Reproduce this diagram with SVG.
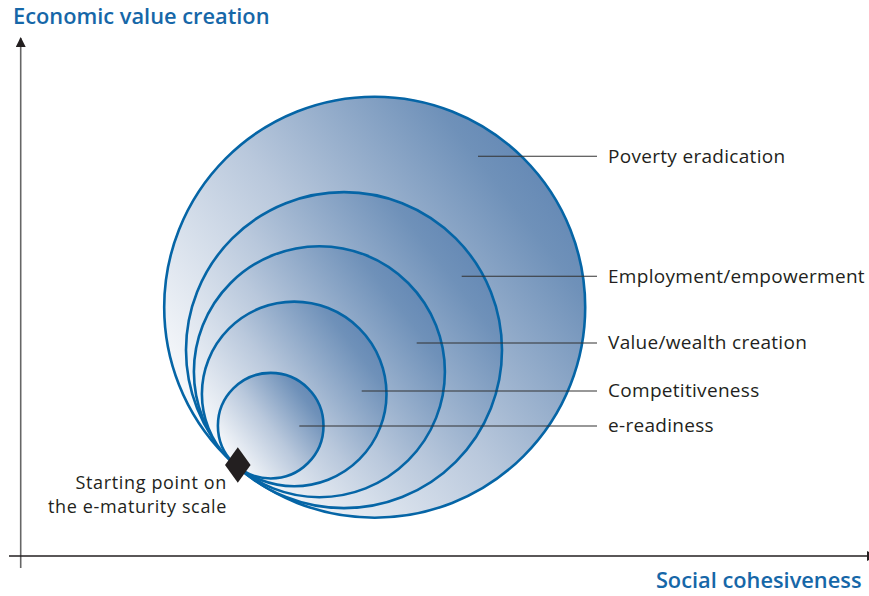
<svg xmlns="http://www.w3.org/2000/svg" width="869" height="596" viewBox="0 0 869 596">
  <style>
    .ring { stroke: #0565a6; stroke-width: 2.6; fill: url(#shade); }
    .leader { stroke: #333333; stroke-width: 1.1; fill: none; }
    .label { font-family: "Open Sans", "Noto Sans", sans-serif; font-size: 19px; letter-spacing: 0.3px; fill: #231f20; }
    .note { font-family: "Open Sans", "Noto Sans", sans-serif; font-size: 18px; letter-spacing: 0.65px; fill: #231f20; }
    .axis-title { font-family: "Open Sans", "Noto Sans", sans-serif; font-size: 21.8px; font-weight: 600; fill: #1667a8; }
  </style>
  <defs>
    <linearGradient id="shade" x1="0.08" y1="0.85" x2="0.92" y2="0.2">
      <stop offset="0" stop-color="#ffffff"/>
      <stop offset="0.5" stop-color="#b9c8dc"/>
      <stop offset="0.9" stop-color="#6f91b9"/>
      <stop offset="1" stop-color="#6589b5"/>
    </linearGradient>
    <marker id="arrow" viewBox="0 0 10 10" refX="9" refY="5" markerWidth="10" markerHeight="10" markerUnits="userSpaceOnUse" orient="auto">
      <path d="M0,0 L10,5 L0,10 Z" fill="#231f20"/>
    </marker>
  </defs>

  <!-- axes -->
  <g id="axes">
    <line x1="20.7" y1="568" x2="20.7" y2="38" stroke="#666666" stroke-width="1.6" marker-end="url(#arrow)"/>
    <line x1="9" y1="556" x2="876" y2="556" stroke="#231f20" stroke-width="1.6" marker-end="url(#arrow)"/>
    <text class="axis-title" x="13" y="24">Economic value creation</text>
    <text class="axis-title" x="861.5" y="588" text-anchor="end">Social cohesiveness</text>
  </g>

  <!-- nested maturity stages, all touching at the starting point -->
  <g id="stage-poverty"><circle class="ring" cx="374.7" cy="307.2" r="210.5"/></g>
  <g id="stage-employment"><circle class="ring" cx="344" cy="350.1" r="158"/></g>
  <g id="stage-value"><circle class="ring" cx="319.4" cy="371.7" r="125.5"/></g>
  <g id="stage-competitiveness"><circle class="ring" cx="294.2" cy="393.9" r="92.3"/></g>
  <g id="stage-ereadiness"><circle class="ring" cx="270.7" cy="425.7" r="52.8"/></g>

  <!-- starting point marker -->
  <g id="start-point">
    <path d="M237.8,447.3 L250.6,465 L237.8,482.7 L225,465 Z" fill="#231f20"/>
    <text class="note" x="227" y="488.8" text-anchor="end">Starting point on</text>
    <text class="note" x="227" y="513.4" text-anchor="end">the e-maturity scale</text>
  </g>

  <!-- leader lines -->
  <g id="connectors">
    <line class="leader" x1="478" y1="156.3" x2="597" y2="156.3"/>
    <line class="leader" x1="461.7" y1="276.3" x2="597" y2="276.3"/>
    <line class="leader" x1="416.7" y1="343" x2="597" y2="343"/>
    <line class="leader" x1="361.7" y1="391" x2="597" y2="391"/>
    <line class="leader" x1="299.3" y1="426" x2="597" y2="426"/>
  </g>

  <!-- stage labels -->
  <g id="labels">
    <text class="label" x="608" y="162.5">Poverty eradication</text>
    <text class="label" x="608" y="282.5">Employment/empowerment</text>
    <text class="label" x="608" y="349">Value/wealth creation</text>
    <text class="label" x="608" y="397">Competitiveness</text>
    <text class="label" x="608" y="432">e-readiness</text>
  </g>
</svg>
